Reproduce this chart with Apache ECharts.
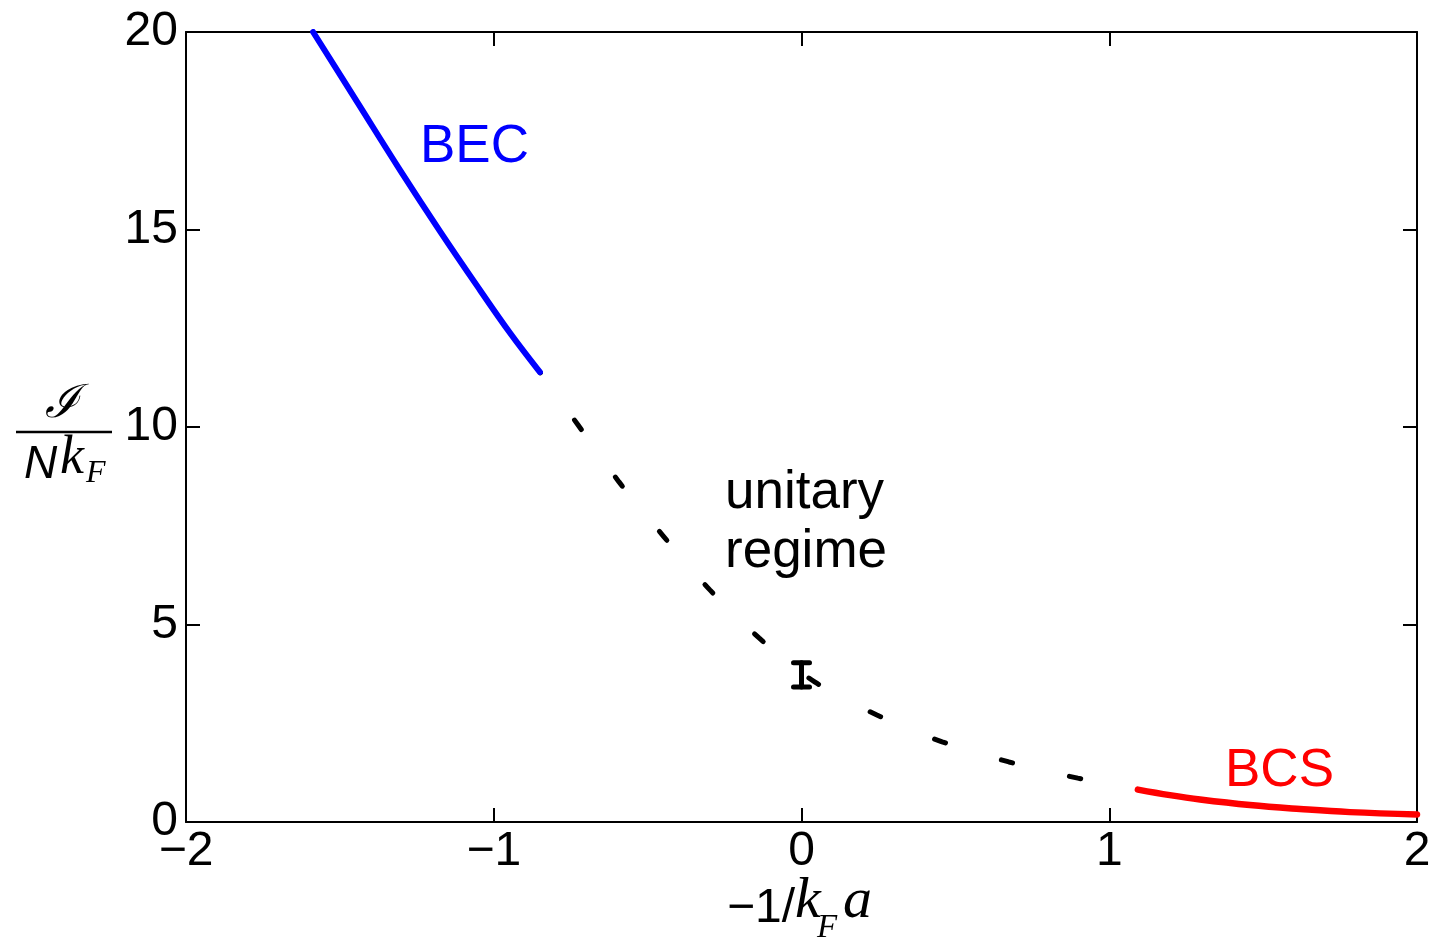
<!DOCTYPE html>
<html>
<head>
<meta charset="utf-8">
<script src="https://cdn.jsdelivr.net/npm/echarts@6/dist/echarts.min.js"></script>
<style>
html, body { margin: 0; padding: 0; background: #fff; }
#main { width: 1437px; height: 942px; }
</style>
</head>
<body>
<div id="main"></div>
<script>
// tick values and their labels
var xTicks = [-2, -1, 0, 1, 2];
var xTickLabels = ['\u22122', '\u22121', '0', '1', '2'];
var yTicks = [0, 5, 10, 15, 20];
var yTickLabels = ['0', '5', '10', '15', '20'];

// BEC branch (blue)
var becX = [-1.587, -1.444, -1.305, -1.175, -1.045, -0.947, -0.850];
var becY = [20.0, 18.23, 16.51, 14.96, 13.47, 12.38, 11.39];

// unitary regime (dashed black)
var uniX = [-0.850, -0.726, -0.593, -0.447, -0.297, -0.138, 0.044, 0.245, 0.457, 0.674, 0.898, 1.093];
var uniY = [11.39, 10.05, 8.61, 7.22, 5.87, 4.66, 3.54, 2.71, 2.03, 1.52, 1.11, 0.82];

// BCS branch (red)
var bcsX = [1.093, 1.197, 1.295, 1.457, 1.620, 1.782, 2.0];
var bcsY = [0.82, 0.68, 0.57, 0.43, 0.33, 0.25, 0.19];

// error bar at unitarity
var errX = [0];
var errLow = [3.42];
var errHigh = [4.03];

function pairs(xs, ys) {
	var out = [];
	for (var i = 0; i < xs.length; i++) out.push([xs[i], ys[i]]);
	return out;
}

var myChart = echarts.init(document.getElementById('main'));

var tickFont = { fontFamily: 'Liberation Sans', fontSize: 48 };
var serifIt = 'italic 58px "Liberation Serif"';

var option = {
	animation: false,
	backgroundColor: '#fff',
	grid: { left: 186, right: 20, top: 32, bottom: 120 },
	xAxis: [{
		type: 'value', min: -2, max: 2, interval: 1,
		axisLine: { show: true, onZero: false, lineStyle: { color: '#000', width: 2 } },
		axisTick: { show: true, inside: true, length: 14, lineStyle: { color: '#000', width: 2 } },
		splitLine: { show: false },
		axisLabel: {
			margin: 6, fontFamily: tickFont.fontFamily, fontSize: tickFont.fontSize, color: '#000',
			formatter: function (v) { return xTickLabels[xTicks.indexOf(v)]; }
		}
	}, {
		type: 'value', min: -2, max: 2, interval: 1, position: 'top',
		axisLine: { show: true, onZero: false, lineStyle: { color: '#000', width: 2 } },
		axisTick: { show: true, inside: true, length: 14, lineStyle: { color: '#000', width: 2 } },
		splitLine: { show: false },
		axisLabel: { show: false }
	}],
	yAxis: [{
		type: 'value', min: 0, max: 20, interval: 5,
		axisLine: { show: true, onZero: false, lineStyle: { color: '#000', width: 2 } },
		axisTick: { show: true, inside: true, length: 14, lineStyle: { color: '#000', width: 2 } },
		splitLine: { show: false },
		axisLabel: {
			margin: 8, fontFamily: tickFont.fontFamily, fontSize: tickFont.fontSize, color: '#000',
			formatter: function (v) { return yTickLabels[yTicks.indexOf(v)]; }
		}
	}, {
		type: 'value', min: 0, max: 20, interval: 5, position: 'right',
		axisLine: { show: true, onZero: false, lineStyle: { color: '#000', width: 2 } },
		axisTick: { show: true, inside: true, length: 14, lineStyle: { color: '#000', width: 2 } },
		splitLine: { show: false },
		axisLabel: { show: false }
	}],
	series: [{
		name: 'unitary', type: 'line', smooth: 0.3, showSymbol: false,
		data: pairs(uniX, uniY),
		lineStyle: { color: '#000', width: 5, type: [12, 58], dashOffset: 11, cap: 'round' }
	}, {
		name: 'BEC', type: 'line', smooth: 0.4, showSymbol: false,
		data: pairs(becX, becY),
		lineStyle: { color: '#0000ff', width: 6, cap: 'round' }
	}, {
		name: 'BCS', type: 'line', smooth: 0.4, showSymbol: false,
		data: pairs(bcsX, bcsY),
		lineStyle: { color: '#ff0000', width: 6.5, cap: 'round' }
	}, {
		name: 'err', type: 'custom',
		data: errX.map(function (x, i) { return [x, errLow[i], errHigh[i]]; }),
		renderItem: function (params, api) {
			var lo = api.coord([api.value(0), api.value(1)]);
			var hi = api.coord([api.value(0), api.value(2)]);
			var w = 8;
			var st = { stroke: '#000', lineWidth: 5, lineCap: 'round' };
			return {
				type: 'group',
				children: [
					{ type: 'line', shape: { x1: lo[0], y1: lo[1], x2: hi[0], y2: hi[1] }, style: st },
					{ type: 'line', shape: { x1: lo[0] - w, y1: lo[1], x2: lo[0] + w, y2: lo[1] }, style: st },
					{ type: 'line', shape: { x1: hi[0] - w, y1: hi[1], x2: hi[0] + w, y2: hi[1] }, style: st }
				]
			};
		}
	}],
	graphic: [
		// annotations
		{ type: 'text', left: 420, top: 121, style: { text: 'BEC', font: '53px "Liberation Sans"', fill: '#0000ff' } },
		{ type: 'text', left: 1225, top: 745, style: { text: 'BCS', font: '53px "Liberation Sans"', fill: '#ff0000' } },
		{ type: 'text', left: 725, top: 467, style: { text: 'unitary', font: '53px "Liberation Sans"', fill: '#000' } },
		{ type: 'text', left: 725, top: 526, style: { text: 'regime', font: '53px "Liberation Sans"', fill: '#000' } },
		// y axis label: I / (N k_F)
		{ type: 'text', left: 45, top: 382, style: { text: '\u2110', font: 'italic 46px "DejaVu Serif"', fill: '#000' } },
		{ type: 'line', shape: { x1: 16, y1: 432, x2: 112, y2: 432 }, style: { stroke: '#000', lineWidth: 2.5 } },
		{ type: 'text', left: 24, top: 442, style: { text: 'N', font: 'italic 46px "Liberation Sans"', fill: '#000' } },
		{ type: 'text', left: 60, top: 432, style: { text: 'k', font: 'italic 54px "Liberation Serif"', fill: '#000' } },
		{ type: 'text', left: 86, top: 458, style: { text: 'F', font: 'italic 32px "Liberation Serif"', fill: '#000' } },
		// x axis label: -1/(k_F a)
		{ type: 'text', left: 727, top: 885, style: { text: '\u22121/', font: '48px "Liberation Sans"', fill: '#000' } },
		{ type: 'text', left: 795, top: 873, style: { text: 'k', font: serifIt, fill: '#000' } },
		{ type: 'text', left: 817, top: 912, style: { text: 'F', font: 'italic 33px "Liberation Serif"', fill: '#000' } },
		{ type: 'text', left: 843, top: 873, style: { text: 'a', font: serifIt, fill: '#000' } }
	]
};
myChart.setOption(option);
</script>
</body>
</html>
